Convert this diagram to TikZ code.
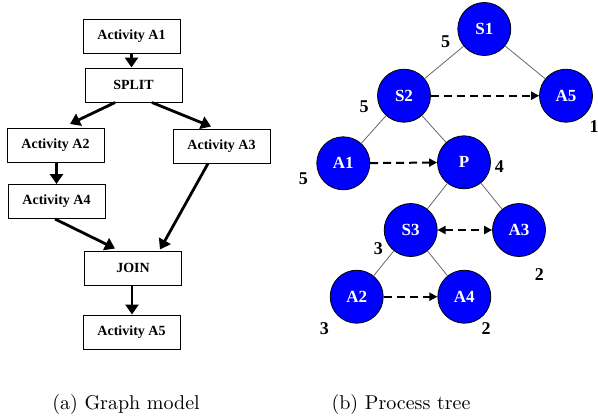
\documentclass[tikz,border=0pt]{standalone}
\usepackage{fontspec}
\newfontfamily\tms{Liberation Serif}
\usetikzlibrary{arrows.meta,calc}
\begin{document}
\begin{tikzpicture}[x=0.5pt,y=-0.5pt,
  actbox/.style={draw=black,line width=0.5pt,fill=white,minimum width=48.5pt,minimum height=17pt,inner sep=0pt,font=\tms\fontsize{7}{8}\selectfont\bfseries},
  flow/.style={line width=1.4pt,-{Triangle[length=5pt,width=6.5pt]}},
  tnode/.style={circle,draw=black,line width=0.4pt,fill={rgb,255:red,0;green,0;blue,255},text=white,minimum size=26.5pt,inner sep=0pt,font=\tms\fontsize{8.5}{9}\selectfont\bfseries},
  tedge/.style={draw=black!60,line width=0.4pt},
  dflow/.style={line width=1pt,dash pattern=on 4pt off 2.5pt,-{Triangle[length=4pt,width=4pt]}},
  dflowboth/.style={line width=1pt,dash pattern=on 4pt off 2.5pt,{Triangle[length=4pt,width=4pt]}-{Triangle[length=4pt,width=4pt]}},
  wlab/.style={font=\tms\fontsize{9}{10}\selectfont\bfseries,inner sep=0pt},
  captext/.style={font=\normalsize,inner sep=0pt}]
\useasboundingbox (0,0) rectangle (598,419);
% graph model
\node[actbox] (ga1) at (131.5,36) {Activity A1};
\node[actbox] (split) at (133.5,85) {SPLIT};
\node[actbox] (ga2) at (55.5,145.5) {Activity A2};
\node[actbox] (ga3) at (221.5,146) {Activity A3};
\node[actbox] (ga4) at (56.5,201.5) {Activity A4};
\node[actbox] (join) at (133,268) {JOIN};
\node[actbox] (ga5) at (131.5,332) {Activity A5};
\draw[flow] (ga1.south) -- (ga1.south |- split.north);
\draw[flow] ($(split.south)+(-18.5,0)$) -- ($(ga2.north)+(14.5,-4)$);
\draw[flow] ($(split.south)+(18.5,0)$) -- ($(ga3.north)+(-10.5,-2)$);
\draw[flow] ($(ga2.south)+(1,0)$) -- ($(ga4.north)+(0,0)$);
\draw[flow] ($(ga3.south)+(-13.5,0)$) -- ($(join.north)+(27,-1)$);
\draw[flow] ($(ga4.south)+(-1.5,0)$) -- ($(join.north)+(-18,-2)$);
\draw[flow] ($(join.south)+(-1,0)$) -- ($(ga5.north)+(0.5,0)$);
% process tree
\node[tnode] (s1) at (484.3,29) {S1};
\node[tnode] (s2) at (404,95.7) {S2};
\node[tnode] (t5) at (566,95.7) {A5};
\node[tnode] (t1) at (343.3,163.3) {A1};
\node[tnode] (p) at (464,162.3) {P};
\node[tnode] (s3) at (410.7,230) {S3};
\node[tnode] (t3) at (519,230) {A3};
\node[tnode] (t2) at (356.7,296.7) {A2};
\node[tnode] (t4) at (464.3,296.7) {A4};
\draw[tedge] (s1) -- (s2);
\draw[tedge] (s1) -- (t5);
\draw[tedge] (s2) -- (t1);
\draw[tedge] (s2) -- (p);
\draw[tedge] (p) -- (s3);
\draw[tedge] (p) -- (t3);
\draw[tedge] (s3) -- (t2);
\draw[tedge] (s3) -- (t4);
\draw[dflow] (s2) -- (t5);
\draw[dflow] (t1) -- (p);
\draw[dflowboth] (s3) -- (t3);
\draw[dflow] (t2) -- (t4);
\node[wlab] (w1) at (445.7,41.7) {5};
\node[wlab] (w2) at (364,107) {5};
\node[wlab] (w3) at (594,126.7) {1};
\node[wlab] (w4) at (303.3,178.3) {5};
\node[wlab] (w5) at (499.3,166.7) {4};
\node[wlab] (w6) at (378.3,248.3) {3};
\node[wlab] (w7) at (539.3,274.3) {2};
\node[wlab] (w8) at (324.3,328.3) {3};
\node[wlab] (w9) at (486,328.3) {2};
% captions
\node[captext] (capa) at (126,404) {(a) Graph model};
\node[captext] (capb) at (401,404) {(b) Process tree};
\end{tikzpicture}
\end{document}
